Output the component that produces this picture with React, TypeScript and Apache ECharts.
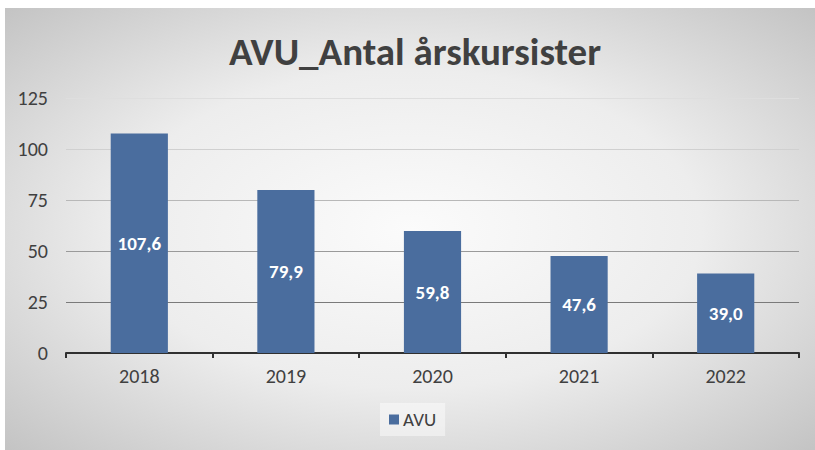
import React, { useEffect, useRef } from "react";
import * as echarts from "echarts";

const categories = ["2018", "2019", "2020", "2021", "2022"];
const avuValues = [107.6, 79.9, 59.8, 47.6, 39.0];
const seriesName = "AVU";
const titleText = "AVU_Antal årskursister";
const yMax = 125;
const yInterval = 25;

const FONT = "Carlito, 'Liberation Sans Narrow', 'Noto Sans', sans-serif";

export default function App() {
  const ref = useRef<HTMLDivElement>(null);
  useEffect(() => {
    document.body.style.margin = "0";
    const chart = echarts.init(ref.current!, null, { renderer: "svg" });
    chart.setOption({
      animation: false,
      textStyle: { fontFamily: FONT },
      graphic: [
        {
          type: "rect",
          z: -10,
          silent: true,
          shape: { x: 5, y: 8, width: 810, height: 442 },
          style: {
            fill: {
              type: "radial",
              x: 0.5,
              y: 0.5,
              r: 0.72,
              colorStops: [
                { offset: 0, color: "#fbfbfb" },
                { offset: 0.5, color: "#ededed" },
                { offset: 1, color: "#c2c2c2" },
              ],
            },
          },
        },
      ],
      title: {
        text: titleText,
        left: 410,
        textAlign: "center",
        top: 27,
        textStyle: {
          fontFamily: FONT,
          fontSize: 39,
          fontWeight: "bold",
          color: "#404040",
        },
      },
      grid: { left: 66, right: 16, top: 98, bottom: 97, containLabel: false },
      legend: {
        left: 380,
        top: 403,
        padding: [7, 9, 7, 9],
        backgroundColor: "rgba(255,255,255,0.45)",
        icon: "rect",
        itemWidth: 10,
        itemHeight: 10,
        itemGap: 5,
        textStyle: { fontFamily: FONT, fontSize: 19, color: "#404040", padding: [0, 0, 0, -1] },
        data: [seriesName],
      },
      xAxis: {
        type: "category",
        data: categories,
        axisLine: { lineStyle: { color: "#303030", width: 2 } },
        axisTick: { show: true, length: 5, lineStyle: { color: "#303030", width: 2 } },
        axisLabel: { fontFamily: FONT, fontSize: 20, color: "#404040", margin: 13 },
      },
      yAxis: {
        type: "value",
        min: 0,
        max: yMax,
        interval: yInterval,
        axisLine: { show: false },
        axisTick: { show: false },
        axisLabel: { fontFamily: FONT, fontSize: 20, color: "#404040", margin: 18 },
        splitLine: {
          lineStyle: {
            color: ["#303030", "#7a7a7a", "#9a9a9a", "#b8b8b8", "#d0d0d0", "#dedede"],
            width: 1,
          },
        },
      },
      series: [
        {
          name: seriesName,
          type: "bar",
          data: avuValues,
          barWidth: "39%",
          itemStyle: { color: "#4a6d9e" },
          label: {
            show: true,
            position: "inside",
            fontFamily: FONT,
            fontSize: 19,
            fontWeight: "bold",
            color: "#ffffff",
            formatter: (p: any) => Number(p.value).toFixed(1).replace(".", ","),
          },
        },
      ],
    });
    return () => chart.dispose();
  }, []);
  return (
    <div
      ref={ref}
      style={{ position: "absolute", left: 0, top: 0, width: 815, height: 450, background: "#ffffff" }}
    />
  );
}
